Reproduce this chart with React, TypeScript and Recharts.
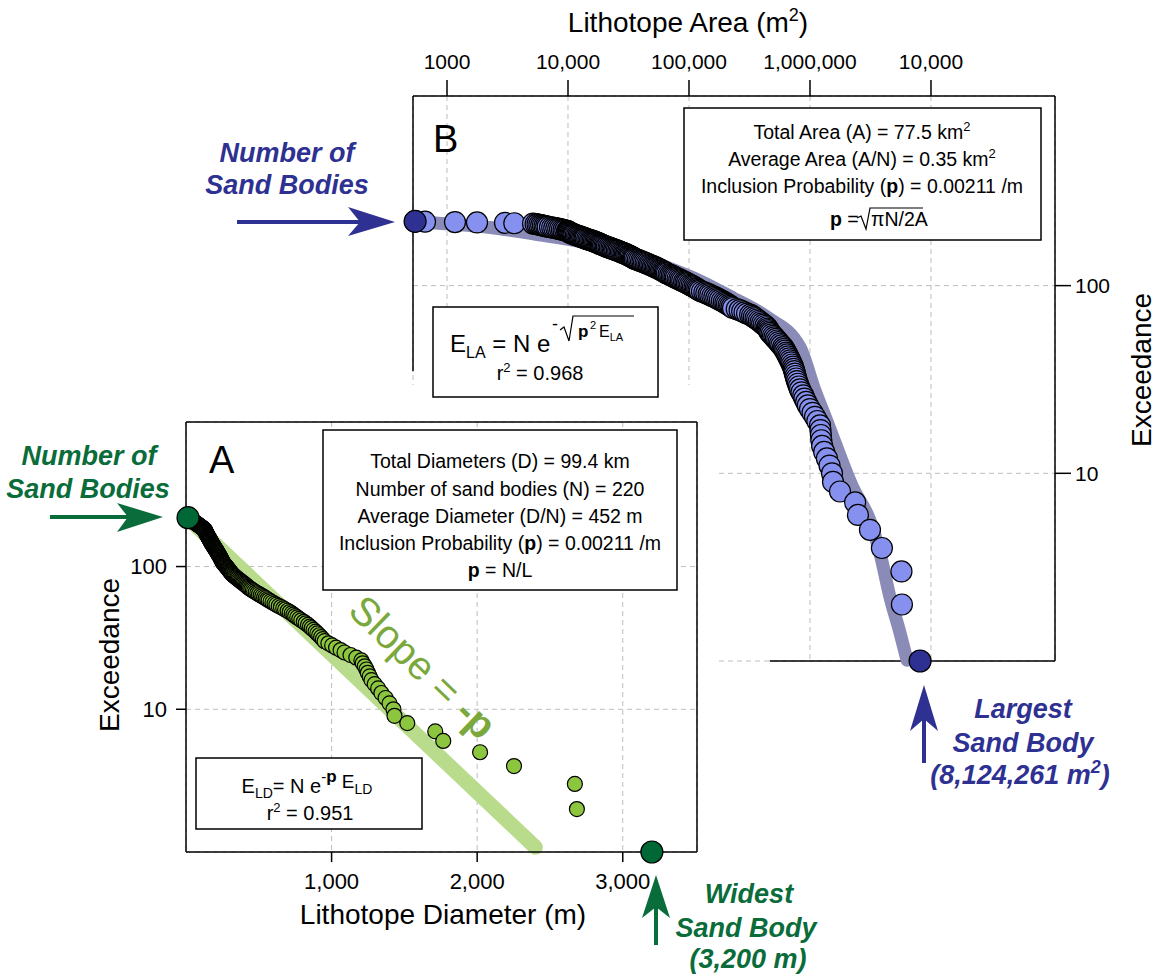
import React from "react";
import {
  ComposedChart,
  Scatter,
  Line,
  XAxis,
  YAxis,
  CartesianGrid,
  ReferenceLine,
} from "recharts";

const W = 1157;
const H = 977;
const FONT = "'Liberation Sans', Arial, Helvetica, sans-serif";

const BLUE = "#2e3192";
const GREEN = "#0a6c3a";

// Lithotope diameters (m), smallest to largest (220 sand bodies)
const diameters = [
  14, 17, 20, 23, 26, 29, 32, 35, 38,
  41, 43, 46, 48, 52, 54, 57, 61, 63, 66, 70, 72, 75, 79, 81, 84, 88, 90, 93, 97,
  99, 102, 106, 108, 111, 115, 117, 120, 122, 125, 128,
  130, 131, 132, 133, 134, 135, 136, 137, 138, 139, 141, 142, 143, 145, 146, 148,
  149, 151, 152, 154, 155, 157, 158, 160, 161, 163, 164, 166, 167, 169, 170, 172,
  173, 175, 176,
  178, 180, 181, 184, 185, 187, 189, 192, 193, 195, 197, 200, 201, 203, 206, 207,
  209, 211, 214, 215, 217, 220, 221, 223, 226, 227, 229, 232, 233, 235, 238, 239,
  241, 244, 245,
  247, 249, 251, 253, 256, 259, 262, 266, 269, 273, 276, 280, 283, 287, 290, 294,
  297, 301, 304, 308, 311,
  315, 320, 326, 331, 337, 343, 349, 355, 362, 369, 376, 383, 390, 397, 404, 411,
  418, 425,
  432, 441, 449, 459, 468, 479, 490, 501, 513, 524, 536, 547, 558,
  568, 581, 594, 608, 621, 637, 652, 668, 681, 698, 712,
  726, 738, 750, 764, 778, 792, 809, 822, 838, 851,
  863, 876, 890, 902, 915, 928, 940,
  952, 978, 1004, 1031, 1062, 1089, 1130, 1170,
  1205, 1214, 1228, 1240, 1249, 1262, 1274, 1296, 1320,
  1342, 1371, 1398, 1425, 1432, 1520, 1712, 1767, 2020, 2253, 2671, 2685, 3200,
];

// Lithotope areas (m2), smallest to largest (220 sand bodies)
const areas = [
  545, 658, 1164, 1770, 3015, 3600,
  5140, 5400, 5600, 5800, 6000, 6200, 6400, 6600, 6800, 7100, 7400, 7700, 8000,
  8300, 8600, 8900, 9200, 9500,
  9820, 9950, 10050, 10200, 10300, 10500, 10700, 10900, 11100, 11300, 11600,
  11900, 12200, 12500, 12800, 13100, 13400, 13700, 14000, 14400, 14800, 15200,
  15600, 16000, 16400, 16800, 17200, 17600, 18000,
  18400, 18700, 19100, 19500, 20000, 20500, 21000, 21600, 22200, 22800, 23400,
  24000, 24600, 25300, 26000, 26700, 27400, 28100, 28800, 29500, 30200, 30900,
  31600, 32300, 33000, 33700,
  34400, 35000, 35600, 36700, 37800, 38900, 40100, 41300, 42500, 43800, 45100,
  46400, 47700, 49000, 50400, 51800, 53200, 54600, 56000, 57400, 58800, 60200,
  61600, 63000, 64300,
  65700, 67800, 70000, 72000, 74000, 76000, 78000, 80500, 83000, 85500, 88000,
  91000, 93500, 96000, 99000, 102000, 105000, 108000, 111000, 114000, 117000,
  120000,
  123000, 128000, 134000, 139000, 145000, 150000, 156000, 162000, 168000, 174000,
  180000, 187000, 194000, 200000, 206000, 213000, 219000, 225000,
  231000, 248000, 262000, 275000, 288000, 302000, 320000, 332000, 343000, 355000,
  366000, 378000, 390000, 402000, 415000, 428000,
  441000, 448000, 455000, 462000, 470000, 482000, 495000, 508000, 522000, 536000,
  550000, 565000, 580000,
  599000, 611000, 623000, 636000, 648000, 660000, 672000, 685000, 697000, 710000,
  724000, 733000, 742000, 750000, 760000, 770000, 780000, 795000, 810000,
  827000, 850000, 880000, 900000, 930000, 960000,
  1000000, 1050000, 1100000, 1150000, 1210000, 1220000, 1230000, 1240000,
  1260000, 1310000, 1380000, 1450000, 1520000, 1550000, 1770000, 2360000,
  2490000, 3130000, 3930000, 5700000, 5750000, 8124261,
];

// Fitted exceedance bands
const diameterFit = [
  { x: 20, y: 215 },
  { x: 2400, y: 1.08 },
];
const areaFit = [
  { x: 545, y: 219 },
  { x: 2740, y: 201 },
  { x: 5140, y: 189 },
  { x: 18400, y: 163 },
  { x: 65700, y: 125 },
  { x: 123000, y: 106 },
  { x: 231000, y: 86 },
  { x: 441000, y: 68 },
  { x: 827000, y: 47 },
  { x: 1100000, y: 27.6 },
  { x: 1380000, y: 19 },
  { x: 2260000, y: 8.4 },
  { x: 3130000, y: 5.6 },
  { x: 3790000, y: 3.75 },
  { x: 4580000, y: 2.19 },
  { x: 5550000, y: 1.41 },
  { x: 6340000, y: 1.01 },
];

const diameterTicks = [1000, 2000, 3000];
const areaTicks = [1e3, 1e4, 1e5, 1e6, 1e7];
const areaTickLabels = ["1000", "10,000", "100,000", "1,000,000", "10,000"];
const exceedanceTicks = [10, 100];

const A_X_DOMAIN: [number, number] = [0, 3510];
const A_Y_DOMAIN: [number, number] = [1, 1030];
const B_X_DOMAIN: [number, number] = [523.6, 1.059e8];
const B_Y_DOMAIN: [number, number] = [1, 1024];

// exceedance = number of bodies at least this size
const toExceedance = (sizes: number[]) =>
  sizes.map((s, i) => ({ x: s, y: sizes.length - i }));

const diameterPoints = toExceedance(diameters);
const areaPoints = toExceedance(areas);
const diameterEnds = [diameterPoints[0], diameterPoints[diameterPoints.length - 1]];
const areaEnds = [areaPoints[0], areaPoints[areaPoints.length - 1]];

const dot = (r: number, fill: string) => (props: any) =>
  props.cx == null ? null : (
    <circle cx={props.cx} cy={props.cy} r={r} fill={fill} stroke="#000" strokeWidth={1.2} />
  );

const axisStroke = { stroke: "#000", strokeWidth: 1.5 };
const grid = { stroke: "#bdbdbd", strokeDasharray: "5 4" };

function AreaPanel() {
  return (
    <ComposedChart width={W} height={H} margin={{ top: 36, right: 42, bottom: 316, left: 413 }}>
      <CartesianGrid {...grid} />
      <XAxis
        type="number"
        dataKey="x"
        orientation="top"
        scale="log"
        domain={B_X_DOMAIN}
        ticks={areaTicks}
        tickFormatter={(v: number) => areaTickLabels[areaTicks.indexOf(v)]}
        height={60}
        tickSize={16}
        tickMargin={11}
        axisLine={axisStroke}
        tickLine={axisStroke}
        tick={{ fontSize: 21, fill: "#000", fontFamily: FONT }}
      />
      <YAxis
        type="number"
        dataKey="y"
        orientation="right"
        scale="log"
        domain={B_Y_DOMAIN}
        ticks={exceedanceTicks}
        width={60}
        tickSize={16}
        tickMargin={4}
        axisLine={axisStroke}
        tickLine={axisStroke}
        tick={{ fontSize: 21, fill: "#000", fontFamily: FONT }}
      />
      <ReferenceLine
        segment={[
          { x: B_X_DOMAIN[0], y: 35 },
          { x: B_X_DOMAIN[0], y: B_Y_DOMAIN[1] },
        ]}
        stroke="#000"
        strokeWidth={1.5}
      />
      <ReferenceLine
        segment={[
          { x: 465000, y: B_Y_DOMAIN[0] },
          { x: B_X_DOMAIN[1], y: B_Y_DOMAIN[0] },
        ]}
        stroke="#000"
        strokeWidth={1.5}
      />
      <Line
        data={areaFit}
        dataKey="y"
        type="monotone"
        stroke="#8a8bb6"
        strokeWidth={13}
        strokeLinecap="round"
        strokeLinejoin="round"
        dot={false}
        activeDot={false}
        isAnimationActive={false}
      />
      <Scatter data={areaPoints} shape={dot(10.5, "#8690ee")} isAnimationActive={false} />
      <Scatter data={areaEnds} shape={dot(11, BLUE)} isAnimationActive={false} />
    </ComposedChart>
  );
}

function DiameterPanel() {
  return (
    <ComposedChart width={W} height={H} margin={{ top: 422, right: 460, bottom: 85, left: 126 }}>
      <CartesianGrid {...grid} />
      <XAxis
        type="number"
        dataKey="x"
        domain={A_X_DOMAIN}
        ticks={diameterTicks}
        tickFormatter={(v: number) => v.toLocaleString("en-US")}
        height={40}
        tickSize={10}
        tickMargin={11}
        axisLine={axisStroke}
        tickLine={axisStroke}
        tick={{ fontSize: 22, fill: "#000", fontFamily: FONT }}
      />
      <YAxis
        type="number"
        dataKey="y"
        scale="log"
        domain={A_Y_DOMAIN}
        ticks={exceedanceTicks}
        width={60}
        tickSize={10}
        tickMargin={9}
        axisLine={axisStroke}
        tickLine={axisStroke}
        tick={{ fontSize: 22, fill: "#000", fontFamily: FONT }}
      />
      <ReferenceLine x={A_X_DOMAIN[1]} stroke="#000" strokeWidth={1.5} />
      <ReferenceLine y={A_Y_DOMAIN[1]} stroke="#000" strokeWidth={1.5} />
      <Line
        data={diameterFit}
        dataKey="y"
        type="linear"
        stroke="#b8dc8c"
        strokeWidth={15}
        strokeLinecap="round"
        dot={false}
        activeDot={false}
        isAnimationActive={false}
      />
      <Scatter data={diameterPoints} shape={dot(7.5, "#8cc63f")} isAnimationActive={false} />
      <Scatter data={diameterEnds} shape={dot(11, "#006837")} isAnimationActive={false} />
    </ComposedChart>
  );
}

const boxStyle = { fill: "#fff", stroke: "#000", strokeWidth: 1.5 };

function Annotations() {
  return (
    <svg
      width={W}
      height={H}
      style={{ position: "absolute", left: 0, top: 0, fontFamily: FONT }}
    >
      {/* axis titles */}
      <text x={688} y={32} fontSize={28} textAnchor="middle">
        Lithotope Area (m<tspan fontSize={18} dy={-11}>2</tspan>
        <tspan dy={11}>)</tspan>
      </text>
      <text
        transform="translate(1141,370) rotate(-90)"
        fontSize={28}
        textAnchor="middle"
        dominantBaseline="central"
      >
        Exceedance
      </text>
      <text
        transform="translate(109,655) rotate(-90)"
        fontSize={28}
        textAnchor="middle"
        dominantBaseline="central"
      >
        Exceedance
      </text>
      <text x={443} y={924} fontSize={28} textAnchor="middle">
        Lithotope Diameter (m)
      </text>

      {/* panel letters */}
      <text x={433} y={152} fontSize={38}>B</text>
      <text x={209} y={473} fontSize={38}>A</text>

      {/* panel B statistics */}
      <rect x={684} y={108} width={357} height={132} {...boxStyle} />
      <g fontSize={19.5} textAnchor="middle">
        <text x={862} y={139}>
          Total Area (A) = 77.5 km<tspan fontSize={13} dy={-8}>2</tspan>
        </text>
        <text x={862} y={166}>
          Average Area (A/N) = 0.35 km<tspan fontSize={13} dy={-8}>2</tspan>
        </text>
        <text x={862} y={193}>
          Inclusion Probability (<tspan fontWeight="bold">p</tspan>) = 0.00211 /m
        </text>
      </g>
      <text x={830} y={226} fontSize={19.5}>
        <tspan fontWeight="bold">p</tspan> =
      </text>
      <path d="M857 218 L861 216 L866 229 L870 208 L923 208" fill="none" stroke="#000" strokeWidth={1.2} />
      <text x={871} y={226} fontSize={19.5}>πN/2A</text>

      {/* panel B fit */}
      <rect x={433} y={307} width={225} height={90} {...boxStyle} />
      <text x={450} y={352} fontSize={24}>
        E<tspan fontSize={16} dy={6}>LA</tspan>
        <tspan dy={-6}> = N e</tspan>
      </text>
      <text x={552} y={330} fontSize={18}>-</text>
      <path d="M560 330 L564 327 L569 341 L573 316 L634 316" fill="none" stroke="#000" strokeWidth={1.2} />
      <text x={578} y={337} fontSize={17} fontWeight="bold">p</text>
      <text x={590} y={329} fontSize={11}>2</text>
      <text x={599} y={337} fontSize={16}>
        E<tspan fontSize={11} dy={4}>LA</tspan>
      </text>
      <text x={540} y={380} fontSize={20} textAnchor="middle">
        r<tspan fontSize={13} dy={-8}>2</tspan>
        <tspan dy={8}> = 0.968</tspan>
      </text>

      {/* panel A statistics */}
      <rect x={323} y={430} width={354} height={160} {...boxStyle} />
      <g fontSize={19.5} textAnchor="middle">
        <text x={500} y={468}>Total Diameters (D) = 99.4 km</text>
        <text x={500} y={496}>Number of sand bodies (N) = 220</text>
        <text x={500} y={523}>Average Diameter (D/N) = 452 m</text>
        <text x={500} y={550}>
          Inclusion Probability (<tspan fontWeight="bold">p</tspan>) = 0.00211 /m
        </text>
        <text x={500} y={577}>
          <tspan fontWeight="bold">p</tspan> = N/L
        </text>
      </g>

      {/* panel A fit */}
      <rect x={196} y={758} width={226} height={71} {...boxStyle} />
      <text x={307} y={793} fontSize={20} textAnchor="middle">
        E<tspan fontSize={14} dy={5}>LD</tspan>
        <tspan dy={-5}>= N e</tspan>
        <tspan fontSize={15} dy={-11}>-</tspan>
        <tspan fontSize={17} fontWeight="bold">p</tspan>
        <tspan fontSize={19} dy={6}> E</tspan>
        <tspan fontSize={14} dy={6}>LD</tspan>
      </text>
      <text x={310} y={820} fontSize={20} textAnchor="middle">
        r<tspan fontSize={13} dy={-8}>2</tspan>
        <tspan dy={8}> = 0.951</tspan>
      </text>

      <text
        transform="translate(423,667) rotate(44)"
        fontSize={40}
        fill="#7aa83c"
        textAnchor="middle"
        dominantBaseline="central"
      >
        Slope = <tspan fontWeight="bold">-p</tspan>
      </text>

      {/* callouts */}
      <g fill={BLUE} fontWeight="bold" fontStyle="italic" fontSize={27} textAnchor="middle">
        <text x={287} y={162}>Number of</text>
        <text x={287} y={194}>Sand Bodies</text>
        <text x={1023} y={718}>Largest</text>
        <text x={1023} y={752}>Sand Body</text>
        <text x={1020} y={784}>
          (8,124,261 m<tspan fontSize={18} dy={-11}>2</tspan>
          <tspan dy={11}>)</tspan>
        </text>
      </g>
      <g fill={GREEN} fontWeight="bold" fontStyle="italic" fontSize={27} textAnchor="middle">
        <text x={89} y={465}>Number of</text>
        <text x={88} y={498}>Sand Bodies</text>
        <text x={749} y={903}>Widest</text>
        <text x={746} y={937}>Sand Body</text>
        <text x={748} y={968}>(3,200 m)</text>
      </g>

      <line x1={237} y1={222} x2={370} y2={222} stroke={BLUE} strokeWidth={4} />
      <polygon points="395,222 348,207 360,222 348,236" fill={BLUE} />
      <line x1={50} y1={517} x2={135} y2={517} stroke={GREEN} strokeWidth={4} />
      <polygon points="163,517 117,503 128,517 117,532" fill={GREEN} />
      <line x1={924} y1={763} x2={924} y2={715} stroke={BLUE} strokeWidth={4} />
      <polygon points="924,685 910,731 924,719 938,731" fill={BLUE} />
      <line x1={656} y1={945} x2={656} y2={900} stroke={GREEN} strokeWidth={4} />
      <polygon points="656,875 642,918 656,907 670,918" fill={GREEN} />
    </svg>
  );
}

export default function App() {
  return (
    <div
      style={{
        position: "absolute",
        left: 0,
        top: 0,
        width: W,
        height: H,
        background: "#fff",
        fontFamily: FONT,
        overflow: "hidden",
      }}
    >
      <div style={{ position: "absolute", left: 0, top: 0 }}>
        <AreaPanel />
      </div>
      {/* panel A sits over the lower-left corner of panel B */}
      <div style={{ position: "absolute", left: 0, top: 385, width: 715, height: 290, background: "#fff" }} />
      <div style={{ position: "absolute", left: 0, top: 0 }}>
        <DiameterPanel />
      </div>
      <Annotations />
    </div>
  );
}
